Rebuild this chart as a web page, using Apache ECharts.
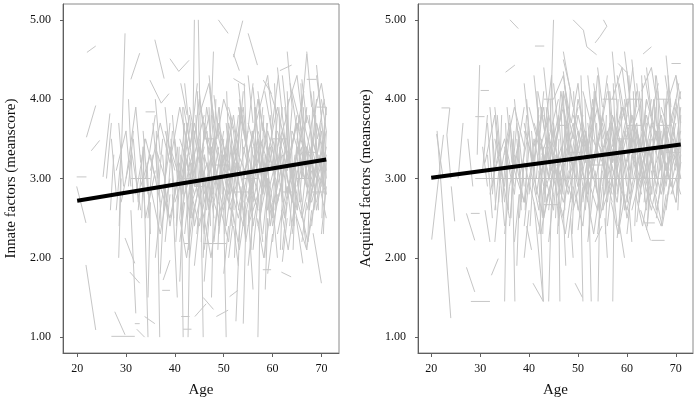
<!DOCTYPE html>
<html><head><meta charset="utf-8">
<script src="https://cdn.jsdelivr.net/npm/echarts@6/dist/echarts.min.js"></script>
<style>html,body{margin:0;padding:0;background:#fff}#c{width:697px;height:403px}</style>
</head><body><div id="c"></div>
<script>
const xTicks=[20,30,40,50,60,70];
const yTicks=[1,2,3,4,5];
const xTitle='Age';
const innateTitle='Innate factors (meanscore)';
const acquiredTitle='Acquired factors (meanscore)';
const innateFit=[[20,2.72],[71,3.24]];
const acquiredFit=[[20,3.01],[71,3.43]];

// each entry: age1, score1, age2, score2 (, age3, score3 ...)
const innateOutliers=[
[22,4.59,23.8,4.67],[29.8,4.83,28.6,2.4],[31,4.25,32.8,4.58],[35.9,4.75,37.8,4.26],
[39,4.51,40.8,4.35,42.9,4.49],[34.9,4.24,37.2,3.95,38.8,4.07],[34,3.84,35.9,3.84],
[23.8,3.92,21.9,3.52],[24.6,3.48,22.9,3.35],[26.7,3.82,25.3,3.02],[19.9,3.02,21.9,3.02],
[48.9,5.0,50.9,4.83],[53.9,4.99,52,4.53],[55,4.83,56.9,4.43],[52,4.57,53.2,4.36],
[61.5,4.36,63.9,4.43],[67,4.57,65.6,3.6],[69,4.43,70.4,3.5],[52,4.26,54.4,4.17],
[58.1,4.24,59.8,4.07],[47.9,4.6,47.2,3.4],[44,5.0,43.5,2.6],[44.8,5.0,45.3,3.2],
[41.2,4.2,42.5,3.8],[30.5,4.0,31.5,2.7],[27.5,3.3,26.8,2.6],[28.5,3.7,29.5,2.9],
[21.8,1.91,23.8,1.09],[19.9,2.9,21.8,2.44],[27.7,1.32,29.8,1.03],[27,1.01,31.8,1.01],
[31.8,1.17,32.8,1.17],[33.8,1.26,35.9,1.17],[32.2,1.1,33.8,1.0],[29.8,2.25,31.8,1.93],
[30.8,1.82,32.8,1.68],[33.5,3.4,34.5,1.0],[36.2,3.6,36.9,1.0],[41.2,3.3,41.7,1.0],
[43.2,3.0,42.7,1.0],[45.3,2.9,45.8,1.0],[50,2.6,50.5,1.0],[57.5,2.8,57,1.0],
[37.6,1.72,39,1.97],[37.4,1.59,39,1.59],[41.3,1.26,43,1.26],[41.7,1.1,43.4,1.1],
[44.1,1.26,46.4,1.42],[45.8,1.5,47.9,1.35],[48.5,1.26,50.9,1.34],[51.2,1.51,52.9,1.59],
[54,1.17,54.6,2.6],[61.8,1.82,63.8,1.76],[68.3,2.31,70,1.68],[58,1.85,59.7,1.85],
[45.8,2.18,50.5,2.18],[41.9,2.18,43,2.18],[64.8,2.52,66.2,1.93],[38,3.0,37,1.8],
[39.5,2.8,40.5,1.5],[47,2.5,46,1.7],[52,2.4,53,1.9],[55,2.6,56,1.6],[60,2.7,61,2.0],
[63,2.5,62,1.95],[66,2.6,67,2.1],[35,2.7,34.5,1.5],[31,2.6,32,1.3],[29,3.0,28.5,2.0],
[42,3.2,41,1.7],[48,2.9,47.5,1.5],[53.5,2.7,52.5,1.2],[59,2.5,58.5,1.6]
];
const innateCloud=[
[28,3.1,30,3.6,31,2.9],[29,2.7,31,3.3],[30,3.0,32,3.9,33,3.2],[31,3.4,33,2.6],
[32,2.8,34,3.5,36,3.0],[33,3.3,34,2.5,36,3.1],[34,3.0,36,3.8],[35,2.9,37,2.3,39,3.0],
[36,3.4,38,3.0,39,3.7],[37,2.6,39,3.4,40,2.8],[38,3.6,40,3.1],[38,2.9,39,2.4,41,3.2],
[39,3.2,41,3.9,43,3.3],[40,2.7,42,3.1,43,2.5],[40,3.5,41,2.9,43,3.6],[41,3.0,43,3.8,44,3.2],
[41,2.5,42,3.3,44,2.8],[42,3.6,44,2.9,45,3.5],[42,2.3,43,2.9,45,2.4],[42,3.1,44,3.7,46,3.0],
[43,2.8,45,3.4,46,2.7],[43,3.9,45,3.2,47,3.8],[43,3.2,44,2.4,46,3.0],[44,2.6,46,3.3,48,2.8],
[44,3.5,45,4.0,47,3.3],[44,3.0,46,2.5,47,3.1],[45,3.3,47,2.7,49,3.4],[45,2.9,46,3.6,48,3.1],
[45,2.4,47,3.0,48,2.5],[46,3.7,48,3.2,49,3.9],[46,3.1,47,2.6,49,3.2],[46,2.8,48,3.5,50,2.9],
[47,3.4,49,2.8,50,3.5],[47,2.5,48,3.1,50,2.6],[47,3.0,49,3.7,51,3.1],[48,3.6,50,3.0,51,3.7],
[48,2.7,50,3.3,52,2.8],[48,3.2,49,2.4,51,3.0],[49,2.9,51,3.6,52,3.1],[49,3.5,51,2.9,53,3.4],
[49,2.3,50,2.9,52,2.5],[50,3.1,52,3.8,53,3.3],[50,2.6,52,3.2,54,2.7],[50,3.4,51,2.8,53,3.5],
[51,3.0,53,2.5,55,3.1],[51,3.7,53,3.1,54,3.8],[51,2.7,52,3.4,54,2.9],[52,3.3,54,3.9,55,3.2],
[52,2.9,54,2.4,56,3.0],[52,3.6,53,3.0,55,3.6],[53,2.6,55,3.3,57,2.8],[53,3.2,55,2.7,56,3.4],
[53,3.9,55,3.3,57,3.8],[54,3.0,56,3.6,57,3.0],[54,2.5,55,3.1,57,2.6],[54,3.4,56,2.9,58,3.5],
[55,2.8,57,3.5,59,2.9],[55,3.7,57,3.2,58,3.9],[55,3.1,56,2.4,58,3.1],[56,3.3,58,2.8,60,3.4],
[56,2.7,58,3.3,59,2.6],[56,3.5,57,4.0,59,3.3],[57,3.0,59,3.6,61,3.1],[57,2.4,59,3.0,60,2.5],
[57,3.4,58,2.9,60,3.6],[58,3.1,60,2.6,62,3.2],[58,3.7,60,3.1,61,3.8],[58,2.8,59,3.4,61,2.9],
[59,3.3,61,3.9,63,3.3],[59,2.6,61,3.2,62,2.7],[59,3.0,60,2.4,62,3.0],[60,3.5,62,3.0,63,3.7],
[60,2.9,62,3.5,64,3.0],[60,3.2,61,2.7,63,3.3],[61,2.7,63,3.3,65,2.8],[61,3.6,63,3.1,64,3.9],
[61,3.0,62,3.6,64,3.1],[62,3.3,64,2.7,66,3.4],[62,2.5,64,3.1,65,2.6],[62,3.8,63,3.2,65,3.7],
[63,3.1,65,3.7,67,3.2],[63,2.8,65,3.3,66,2.7],[63,3.5,64,3.0,66,3.6],[64,3.0,66,2.5,68,3.1],
[64,3.6,66,3.2,67,3.9],[64,2.7,65,3.4,67,2.9],[65,3.3,67,3.8,69,3.3],[65,2.9,67,3.4,68,2.8],
[65,3.6,66,3.0,68,3.7],[66,3.1,68,2.7,70,3.2],[66,3.8,68,3.3,69,4.0],[66,2.6,67,3.2,69,2.8],
[67,3.4,69,3.0,71,3.6],[67,3.0,69,3.7,71,3.1],[67,2.8,68,3.4,70,2.9],[68,3.5,70,3.1,71,3.9],
[68,3.2,69,2.6,71,3.3],[68,2.9,70,3.6,71,3.0],[69,3.7,71,3.2],[69,3.1,71,2.5],
[69,2.7,71,3.4],[70,3.3,71,3.9],[70,3.0,71,2.8],
[31,3.0,35,3.0],[41,3.0,44,3.0],[54,3.0,57,3.0],[65,3.0,68,3.0],[68,2.83,71,2.83],
[69,3.9,71,3.9],[67,4.25,69,4.25],
[42,4.2,43,3.6],[45,4.1,46,3.5],[47,4.3,48,3.7],[50,4.0,52,3.6],[53,4.2,54,3.6],
[55,4.3,56,3.7],[57,4.1,58,3.6],[59,4.2,61,3.8],[62,4.3,63,3.7],[64,4.1,66,3.6],
[66,4.25,67,3.7],[69,4.3,70,3.8],[70,4.0,71,3.6],[38,3.9,39,3.3],[36,4.0,37,3.3],
[48,4.05,49,3.5],[56,4.15,57,3.5],[61,4.4,62,3.8],[63,4.6,64,3.9],[67,4.6,68,3.9],
[41,2.2,42,2.7],[43,2.0,44,2.6],[46,2.1,47,2.6],[48,2.2,49,2.8],[51,2.0,52,2.5],
[53,2.2,54,2.9],[56,2.1,57,2.7],[58,2.3,59,2.9],[60,2.2,61,2.8],[62,2.1,63,2.7],
[64,2.3,65,2.8],[66,2.2,67,2.7],[68,2.4,69,3.0],[70,2.3,71,2.9],[38,2.2,39,2.8],
[36,2.0,37,2.6],[44,1.9,45,2.5],[50,1.8,51,2.4],[55,1.9,56,2.5],[59,1.8,60,2.3]
];
const innateCloud2=[
[40.5,3.4,41.5,2.6,43,3.2],[41.5,2.8,42.5,3.7,44,3.0],[42.5,3.3,43.5,2.5,45,2.9],[43.5,3.7,44.5,2.9,46,3.4],
[44.5,2.3,45.5,3.1,47,2.6],[45.5,3.2,46.5,3.9,48,3.3],[46.5,2.6,47.5,3.4,49,2.9],[47.5,3.8,48.5,3.0,50,3.6],
[48.5,2.5,49.5,3.3,51,2.7],[49.5,3.2,50.5,2.4,52,3.1],[50.5,3.7,51.5,3.0,53,3.8],[51.5,2.4,52.5,3.2,54,2.6],
[52.5,3.1,53.5,3.9,55,3.3],[53.5,2.9,54.5,2.2,56,2.8],[54.5,3.6,55.5,2.8,57,3.5],[55.5,2.6,56.5,3.5,58,2.9],
[56.5,3.9,57.5,3.1,59,3.7],[57.5,2.5,58.5,3.3,60,2.7],[58.5,3.2,59.5,2.4,61,3.0],[59.5,3.8,60.5,3.1,62,3.9],
[60.5,2.6,61.5,3.4,63,2.8],[61.5,3.3,62.5,2.5,64,3.2],[62.5,3.9,63.5,3.2,65,3.8],[63.5,2.4,64.5,3.2,66,2.6],
[64.5,3.1,65.5,3.8,67,3.0],[65.5,2.7,66.5,3.5,68,2.9],[66.5,3.4,67.5,2.6,69,3.2],[67.5,3.8,68.5,3.0,70,3.7],
[68.5,2.6,69.5,3.3,71,2.8],[69.5,3.5,70.5,2.9,71,3.6],
[42,3.4,42.8,2.2],[43.2,2.5,44,3.6],[44.3,3.8,45,2.7],[45.4,2.2,46.1,3.3],[46.6,3.6,47.3,2.4],
[47.8,2.9,48.4,4.0],[49.1,3.9,49.7,2.8],[50.2,2.3,50.9,3.5],[51.4,3.8,52.1,2.6],[52.6,2.7,53.3,3.9],
[53.8,3.5,54.4,2.3],[55.1,2.4,55.8,3.6],[56.3,3.9,57,2.7],[57.6,2.6,58.2,3.8],[58.8,3.7,59.4,2.5],
[60.1,2.5,60.7,3.6],[61.3,3.9,61.9,2.8],[62.6,2.8,63.2,4.0],[63.8,3.6,64.4,2.4],[65.1,2.6,65.7,3.7],
[66.3,3.9,66.9,2.9],[67.6,2.7,68.2,3.9],[68.8,3.8,69.4,2.6],[70.1,2.5,70.7,3.7],
[36.5,3.3,37.2,2.4],[37.8,2.6,38.4,3.6],[39.2,3.5,39.8,2.5],[40.3,2.4,40.9,3.4],[34.3,3.2,35,2.3],[33.2,2.5,33.8,3.5],
[44,2.9,46,2.9],[48,3.17,51,3.17],[52,2.83,55,2.83],[58,3.17,61,3.17],[62,2.83,64,2.83],[60,3.5,63,3.5],[46,3.5,48,3.5],[66,3.33,69,3.33],
[41.8,3.9,43.2,3.4,44.6,4.2],[47.2,4.1,48.6,3.5,50,4.0],[53.2,4.0,54.6,3.4,56,4.2],[58.4,4.1,59.8,3.6,61.2,4.3],[63.6,4.2,65,3.6,66.4,4.1],[67.8,4.1,69.2,3.5,70.6,4.0],
[41,2.5,42.4,2.0,43.8,2.6],[46,2.5,47.4,2.0,48.8,2.7],[51.8,2.6,53.2,2.1,54.6,2.7],[56.8,2.5,58.2,2.0,59.6,2.6],[61.8,2.6,63.2,2.1,64.6,2.7],[65.8,2.6,67.2,2.2,68.6,2.7],
[42.6,3.1,43.6,3.3,44.6,2.8],[45.6,3.0,46.6,3.2,47.6,2.7],[50.6,3.0,51.6,3.4,52.6,2.9],[54.6,3.2,55.6,2.8,56.6,3.3],[58.6,3.0,59.6,3.4,60.6,2.9],[62.6,3.2,63.6,2.8,64.6,3.3],[66.6,3.0,67.6,3.4,68.6,2.9],[69.6,3.2,70.6,2.8]
];
const innateCloud3=[
[30.5,2.9,31.5,3.6],[31.5,3.5,32.5,2.7],[32.5,2.6,33.5,3.4],[33.5,3.6,34.5,2.8],[34.5,2.5,35.5,3.3],
[35.5,3.7,36.5,3.0],[36.5,2.8,37.5,3.5],[37.5,3.3,38.5,2.5],[38.5,2.7,39.5,3.6],[39.5,3.8,40.5,3.0],
[33,2.9,35,3.3,37,2.7],[35,3.1,37,3.7,39,3.2],[37,2.9,39,2.5,41,3.1],[39,3.4,41,3.0,42,3.7],
[40.2,2.2,41,3.0],[41.6,3.9,42.2,2.9],[42.8,2.1,43.4,3.2],[44.6,4.1,45.2,3.0],[45.8,2.0,46.4,2.9],
[47,3.9,47.6,2.8],[48.8,2.1,49.4,3.0],[50.6,4.1,51.2,3.1],[52.2,2.0,52.8,3.0],[54.2,4.2,54.8,3.2],
[55.6,2.1,56.2,3.1],[57.2,4.0,57.8,3.0],[58.4,2.0,59,3.0],[60.4,4.2,61,3.2],[61.6,2.1,62.2,3.1],
[63,4.1,63.6,3.0],[64.2,2.1,64.8,3.1],[65.8,4.2,66.4,3.2],[67.2,2.2,67.8,3.2],[68.4,4.1,69,3.1],[70.4,2.3,71,3.2],
[43,2.6,45,3.0,46,2.3],[49,2.7,51,2.2,52,2.9],[55,2.4,57,2.8,58,2.2],[61,2.3,63,2.9,64,2.4],[65,2.5,67,2.1,68,2.6],
[45,3.8,47,4.2,48,3.6],[51,3.9,53,3.4,54,4.1],[57,3.8,59,4.3,60,3.7],[63,3.9,65,4.3,66,3.8],[68,3.7,70,4.2,71,3.8],
[41,3.5,43,3.1],[44,3.3,46,3.8],[49,3.6,51,3.2],[53,3.3,55,3.0],[57,3.6,59,3.2],[61,3.4,63,3.8],[65,3.5,67,3.1],
[42,2.8,44,3.2],[47,2.9,49,2.5],[51,2.6,53,3.0],[55,3.0,57,2.6],[59,2.8,61,3.3],[63,3.0,65,2.5],[67,2.6,69,3.1],
[28,2.6,29,3.3],[27,3.5,28,2.8],[26,3.0,27,3.7]
];
const acquiredOutliers=[
[36.1,5.0,37.8,4.89],[41.2,4.67,43.1,4.67],[35.2,4.34,37.1,4.43],[29.9,4.43,29.4,3.3],
[30.1,4.11,31.8,4.11],[29,3.78,30.9,3.78],[22.1,3.89,23.8,3.89,23.2,3.55,24,3.0],
[21.1,3.56,22.4,3.02],[49,5.0,51.1,4.87,51.8,4.66,53.8,4.56],[55.2,5.0,55.9,4.92,54.5,4.79,53.5,4.71],
[63.3,4.57,65,4.66],[58.2,4.45,59.9,4.34],[69.1,4.45,71,4.45],[45,5.0,44.3,3.6],
[47,4.5,48.5,4.1],[59.5,4.6,60.5,4.1],[26.5,3.7,25.5,3.0],[27.5,3.5,28.5,2.9],
[20.1,2.23,22.5,3.55],[21.2,3.6,24,1.24],[24.1,2.9,24.8,2.46],[28.1,2.56,29.9,2.56],
[27.2,2.56,28.9,2.22],[27.2,1.88,28.9,1.57],[28.1,1.45,32,1.45],[35.5,3.3,35,1.45],
[36.5,3.5,37.1,1.45],[42,3.1,42.9,1.45],[41,2.7,42.9,1.45],[46,3.2,46.3,1.45],
[50.5,3.0,51,1.45],[52,3.4,52.7,1.45],[54.5,3.0,54.1,1.45],[57.5,3.3,57.1,1.45],
[44.5,2.6,44,1.45],[33.7,1.99,32.3,1.78],[40.8,1.68,42.9,1.45],[49.4,1.68,50.9,1.5],
[53.5,2.2,54.9,2.4],[63.6,2.44,65.7,2.44],[65,2.22,67.7,2.22],[62.8,2.6,64.8,2.22],
[31,2.6,32,2.2],[34,2.9,33,2.2],[38,2.8,37.5,1.9],[40,2.6,39,2.0],[47,2.6,47.5,1.9],
[48.5,2.5,49,2.0],[55.5,2.5,56,2.0],[58.5,2.4,59.5,2.0],[60.5,2.6,61,2.2],[39.5,2.4,40.5,2.1],
[31.5,3.3,32.5,2.5],[33,3.9,34,3.3],[30.5,3.4,31.5,2.9]
];
const acquiredCloud=[
[31,3.2,33,3.8,34,3.1],[32,2.8,34,3.4,35,2.7],[33,3.5,35,2.9,36,3.6],[33,2.6,34,3.2,36,2.5],
[34,3.0,36,3.7,37,3.2],[35,3.4,37,2.8,38,3.5],[36,2.9,38,3.5,39,2.9],[36,3.8,37,3.1,39,3.9],
[37,3.3,39,2.7,40,3.4],[38,3.0,40,3.6,41,3.0],[38,2.5,39,3.2,41,2.7],[39,3.7,41,3.1,42,3.8],
[40,3.2,42,2.6,43,3.3],[40,2.8,41,3.5,43,2.9],[40,3.9,42,3.4,43,4.1],[41,3.4,43,3.9,44,3.2],
[41,3.0,43,2.5,45,3.1],[42,3.6,44,3.0,45,3.7],[42,2.7,43,3.3,45,2.8],[42,3.3,44,3.8,46,3.2],
[43,3.1,45,2.6,46,3.3],[43,3.8,45,3.3,47,4.0],[43,2.9,44,3.5,46,3.0],[44,3.5,46,2.9,48,3.6],
[44,3.2,46,3.8,47,3.1],[44,2.6,45,3.2,47,2.7],[45,3.4,47,3.9,49,3.3],[45,3.0,47,2.5,48,3.1],
[45,3.7,46,3.1,48,3.8],[46,3.3,48,2.8,50,3.4],[46,2.8,48,3.4,49,2.7],[46,3.6,47,4.1,49,3.5],
[47,3.2,49,3.7,51,3.1],[47,2.7,49,3.2,50,2.6],[47,3.9,48,3.3,50,3.9],[48,3.4,50,2.9,52,3.5],
[48,3.0,50,3.6,51,3.1],[48,3.7,49,3.1,51,3.8],[49,3.1,51,3.6,53,3.0],[49,2.6,51,3.1,52,2.7],
[49,3.5,50,4.0,52,3.4],[50,3.3,52,2.8,54,3.4],[50,3.8,52,3.3,53,3.9],[50,2.9,51,3.5,53,3.0],
[51,3.6,53,3.1,55,3.7],[51,3.1,53,3.7,54,3.2],[51,2.7,52,3.3,54,2.8],[52,3.4,54,3.9,56,3.3],
[52,3.0,54,2.6,55,3.1],[52,3.7,53,3.2,55,3.8],[53,3.2,55,3.7,57,3.1],[53,2.8,55,3.4,56,2.8],
[53,4.0,54,3.4,56,4.1],[54,3.5,56,3.0,58,3.6],[54,3.1,56,3.6,57,3.2],[54,2.6,55,3.2,57,2.7],
[55,3.3,57,3.8,59,3.3],[55,3.8,57,3.2,58,3.9],[55,2.9,56,3.4,58,2.9],[56,3.6,58,3.1,60,3.7],
[56,3.2,58,2.7,59,3.3],[56,2.7,57,3.3,59,2.8],[57,3.4,59,3.9,61,3.4],[57,3.0,59,3.5,60,3.0],
[57,3.7,58,3.2,60,3.8],[58,3.1,60,2.6,62,3.2],[58,3.5,60,4.0,61,3.4],[58,2.8,59,3.4,61,2.9],
[59,3.3,61,3.8,63,3.2],[59,3.9,61,3.4,62,4.0],[59,3.0,60,2.5,62,3.1],[60,3.6,62,3.1,64,3.7],
[60,3.2,62,3.7,63,3.1],[60,2.7,61,3.3,63,2.8],[61,3.4,63,2.9,65,3.5],[61,3.8,63,3.4,64,4.0],
[61,3.0,62,3.6,64,3.1],[62,3.3,64,3.8,66,3.3],[62,2.9,64,3.4,65,2.8],[62,3.6,63,3.1,65,3.7],
[63,3.1,65,2.6,67,3.2],[63,3.7,65,3.2,66,3.9],[63,3.4,64,4.0,66,3.5],[64,3.0,66,3.6,68,3.1],
[64,3.5,66,3.0,67,3.6],[64,2.7,65,3.3,67,2.8],[65,3.3,67,3.8,69,3.2],[65,3.8,67,3.3,68,4.0],
[65,3.1,66,2.6,68,3.2],[66,3.6,68,3.1,70,3.7],[66,3.2,68,3.7,69,3.1],[66,2.8,67,3.4,69,2.9],
[67,3.4,69,2.9,71,3.5],[67,3.9,69,3.5,71,4.1],[67,3.0,68,3.6,70,3.1],[68,3.5,70,4.0,71,3.4],
[68,3.2,70,2.7,71,3.3],[68,2.9,69,3.4,71,3.0],[69,3.7,71,3.2],[69,3.1,71,3.6],
[69,2.8,71,3.2],[70,3.4,71,3.9],[70,3.0,71,2.8],
[29,3.0,33,3.0],[33,3.0,38,3.0],[38,3.0,44,3.0],[44,3.0,50,3.0],[50,3.0,56,3.0],
[56,3.0,62,3.0],[62,3.0,67,3.0],[67,3.0,71,3.0],[68,3.33,71,3.33],[55,3.33,58,3.33],
[55,4.0,58,4.0],[60,4.0,63,4.0],[66,4.0,69,4.0],[43,4.0,45,4.0],[43,2.67,46,2.67],
[41,4.3,42,3.7],[43,4.4,44,3.8],[45,4.2,46,3.6],[47,4.35,48,3.8],[50,4.2,51,3.6],
[52,4.3,53,3.7],[54,4.4,55,3.9],[56,4.2,57,3.6],[58,4.3,59,3.8],[60,4.35,61,3.7],
[62,4.2,63,3.6],[64,4.4,65,3.8],[66,4.3,67,3.7],[68,4.55,69,3.9],[70,4.3,71,3.7],
[39,4.2,40,3.6],[37,4.0,38,3.4],[47,4.6,49,3.9],[57,4.6,58,3.9],[61,4.5,62,3.9],
[42,2.3,43,2.9],[44,2.2,45,2.8],[46,2.4,47,3.0],[48,2.25,49,2.8],[50,2.35,51,2.9],
[52,2.2,53,2.8],[54,2.3,55,2.9],[56,2.4,57,3.0],[58,2.25,59,2.8],[60,2.3,61,2.9],
[62,2.45,63,3.0],[64,2.35,65,2.9],[66,2.5,67,3.0],[68,2.6,69,3.1],[70,2.7,71,3.2],
[35,2.3,36,2.9],[37,2.2,38,2.8],[39,2.4,40,3.0]
];
const acquiredCloud2=[
[40.5,3.6,41.5,2.8,43,3.4],[41.5,3.0,42.5,3.9,44,3.2],[42.5,3.5,43.5,2.7,45,3.1],[43.5,3.9,44.5,3.1,46,3.6],
[44.5,2.6,45.5,3.3,47,2.8],[45.5,3.4,46.5,4.1,48,3.5],[46.5,2.8,47.5,3.6,49,3.1],[47.5,4.0,48.5,3.2,50,3.8],
[48.5,2.7,49.5,3.5,51,2.9],[49.5,3.4,50.5,2.6,52,3.3],[50.5,3.9,51.5,3.2,53,4.0],[51.5,2.6,52.5,3.4,54,2.8],
[52.5,3.3,53.5,4.1,55,3.5],[53.5,3.1,54.5,2.5,56,3.0],[54.5,3.8,55.5,3.0,57,3.7],[55.5,2.8,56.5,3.7,58,3.1],
[56.5,4.1,57.5,3.3,59,3.9],[57.5,2.7,58.5,3.5,60,2.9],[58.5,3.4,59.5,2.6,61,3.2],[59.5,4.0,60.5,3.3,62,4.1],
[60.5,2.8,61.5,3.6,63,3.0],[61.5,3.5,62.5,2.7,64,3.4],[62.5,4.1,63.5,3.4,65,4.0],[63.5,2.7,64.5,3.4,66,2.9],
[64.5,3.3,65.5,4.0,67,3.2],[65.5,2.9,66.5,3.7,68,3.1],[66.5,3.6,67.5,2.8,69,3.4],[67.5,4.0,68.5,3.2,70,3.9],
[68.5,2.8,69.5,3.5,71,3.0],[69.5,3.7,70.5,3.1,71,3.8],
[42,3.6,42.8,2.5],[43.2,2.7,44,3.8],[44.3,4.0,45,2.9],[45.4,2.5,46.1,3.5],[46.6,3.8,47.3,2.6],
[47.8,3.1,48.4,4.1],[49.1,4.1,49.7,3.0],[50.2,2.6,50.9,3.7],[51.4,4.0,52.1,2.8],[52.6,2.9,53.3,4.1],
[53.8,3.7,54.4,2.5],[55.1,2.6,55.8,3.8],[56.3,4.1,57,2.9],[57.6,2.8,58.2,4.0],[58.8,3.9,59.4,2.7],
[60.1,2.7,60.7,3.8],[61.3,4.1,61.9,3.0],[62.6,3.0,63.2,4.2],[63.8,3.8,64.4,2.6],[65.1,2.8,65.7,3.9],
[66.3,4.1,66.9,3.1],[67.6,2.9,68.2,4.1],[68.8,4.0,69.4,2.8],[70.1,2.7,70.7,3.9],
[32.5,3.5,33.2,2.6],[33.8,2.7,34.4,3.8],[35.2,3.7,35.8,2.6],[36.3,2.5,36.9,3.6],[37.8,3.6,38.4,2.6],[39.2,2.6,39.8,3.7],
[44,3.17,46,3.17],[48,3.33,51,3.33],[52,3.17,55,3.17],[58,3.5,61,3.5],[62,3.33,64,3.33],[60,3.67,63,3.67],[46,3.67,48,3.67],[66,3.67,69,3.67],
[41.8,4.1,43.2,3.6,44.6,4.3],[47.2,4.2,48.6,3.7,50,4.2],[53.2,4.2,54.6,3.6,56,4.3],[58.4,4.2,59.8,3.7,61.2,4.4],[63.6,4.3,65,3.8,66.4,4.2],[67.8,4.3,69.2,3.7,70.6,4.2],
[41,2.7,42.4,2.3,43.8,2.8],[46,2.7,47.4,2.3,48.8,2.9],[51.8,2.8,53.2,2.3,54.6,2.9],[56.8,2.7,58.2,2.3,59.6,2.8],[61.8,2.8,63.2,2.4,64.6,2.9],[65.8,2.8,67.2,2.4,68.6,2.9],
[42.6,3.3,43.6,3.5,44.6,3.0],[45.6,3.2,46.6,3.4,47.6,2.9],[50.6,3.2,51.6,3.6,52.6,3.1],[54.6,3.4,55.6,3.0,56.6,3.5],[58.6,3.2,59.6,3.6,60.6,3.1],[62.6,3.4,63.6,3.0,64.6,3.5],[66.6,3.2,67.6,3.6,68.6,3.1],[69.6,3.4,70.6,3.0]
];
const acquiredCloud3=[
[30.5,3.1,31.5,3.8],[31.5,3.7,32.5,2.9],[32.5,2.8,33.5,3.6],[33.5,3.8,34.5,3.0],[34.5,2.7,35.5,3.5],
[35.5,3.9,36.5,3.2],[36.5,3.0,37.5,3.7],[37.5,3.5,38.5,2.7],[38.5,2.9,39.5,3.8],[39.5,4.0,40.5,3.2],
[33,3.1,35,3.5,37,2.9],[35,3.3,37,3.9,39,3.4],[37,3.1,39,2.7,41,3.3],[39,3.6,41,3.2,42,3.9],
[40.2,2.4,41,3.2],[41.6,4.1,42.2,3.1],[42.8,2.3,43.4,3.4],[44.6,4.3,45.2,3.2],[45.8,2.3,46.4,3.1],
[47,4.1,47.6,3.0],[48.8,2.3,49.4,3.2],[50.6,4.3,51.2,3.3],[52.2,2.3,52.8,3.2],[54.2,4.3,54.8,3.4],
[55.6,2.3,56.2,3.3],[57.2,4.2,57.8,3.2],[58.4,2.3,59,3.2],[60.4,4.3,61,3.4],[61.6,2.4,62.2,3.3],
[63,4.3,63.6,3.2],[64.2,2.4,64.8,3.3],[65.8,4.3,66.4,3.4],[67.2,2.5,67.8,3.4],[68.4,4.3,69,3.3],[70.4,2.6,71,3.4],
[43,2.8,45,3.2,46,2.5],[49,2.9,51,2.4,52,3.1],[55,2.6,57,3.0,58,2.4],[61,2.6,63,3.1,64,2.6],[65,2.7,67,2.4,68,2.8],
[45,4.0,47,4.3,48,3.8],[51,4.1,53,3.6,54,4.3],[57,4.0,59,4.4,60,3.9],[63,4.1,65,4.4,66,4.0],[68,3.9,70,4.3,71,4.0],
[41,3.7,43,3.3],[44,3.5,46,4.0],[49,3.8,51,3.4],[53,3.5,55,3.2],[57,3.8,59,3.4],[61,3.6,63,4.0],[65,3.7,67,3.3],
[42,3.0,44,3.4],[47,3.1,49,2.7],[51,2.8,53,3.2],[55,3.2,57,2.8],[59,3.0,61,3.5],[63,3.2,65,2.7],[67,2.8,69,3.3],
[32,3.9,33,3.2],[34,3.1,35,2.4],[36,2.4,37,3.2]
];

function toLines(list){
  return list.map(function(a){
    const c=[];
    for(let i=0;i<a.length;i+=2) c.push([a[i],a[i+1]]);
    return {coords:c};
  });
}
const serif='"Liberation Serif","DejaVu Serif",serif';
const axisCol='#5f5f5f';
const textCol='#111';
const greyLine='#c6c6c6';

function xAxisFor(idx,min,max){
  return {gridIndex:idx,type:'value',min:min,max:max,
    splitLine:{show:false},
    axisLine:{show:true,onZero:false,lineStyle:{color:axisCol,width:1}},
    axisTick:{show:true,customValues:xTicks,length:4,lineStyle:{color:axisCol}},
    axisLabel:{customValues:xTicks,color:textCol,fontFamily:serif,fontSize:12,margin:10},
    name:xTitle,nameLocation:'middle',nameGap:30,
    nameTextStyle:{fontFamily:serif,fontSize:15,color:textCol}};
}
function yAxisFor(idx,title){
  return {gridIndex:idx,type:'value',min:0.8,max:5.2,
    splitLine:{show:false},
    axisLine:{show:true,onZero:false,lineStyle:{color:axisCol,width:1}},
    axisTick:{show:true,customValues:yTicks,length:3,lineStyle:{color:axisCol}},
    axisLabel:{customValues:yTicks,color:textCol,fontFamily:serif,fontSize:12,margin:12,
      formatter:function(v){return Number(v).toFixed(2);}},
    name:title,nameLocation:'middle',nameGap:44,
    nameTextStyle:{fontFamily:serif,fontSize:15,color:textCol}};
}
function spaghetti(idx,list){
  return {type:'lines',coordinateSystem:'cartesian2d',xAxisIndex:idx,yAxisIndex:idx,
    polyline:true,silent:true,z:2,
    lineStyle:{color:greyLine,width:1,opacity:1},
    data:toLines(list)};
}
function fitLine(idx,pts){
  return {type:'line',xAxisIndex:idx,yAxisIndex:idx,data:pts,showSymbol:false,symbol:'none',
    silent:true,z:5,lineStyle:{color:'#000',width:4}};
}

const chart=echarts.init(document.getElementById('c'),null,{renderer:'canvas'});
chart.setOption({
  animation:false,
  backgroundColor:'#fff',
  grid:[
    {left:63,top:4,width:276,height:349,show:true,borderColor:'#8a8a8a',borderWidth:1,backgroundColor:'transparent'},
    {left:418,top:4,width:275,height:349,show:true,borderColor:'#8a8a8a',borderWidth:1,backgroundColor:'transparent'}
  ],
  xAxis:[xAxisFor(0,17.1,73.6),xAxisFor(1,17.3,73.5)],
  yAxis:[yAxisFor(0,innateTitle),yAxisFor(1,acquiredTitle)],
  series:[
    spaghetti(0,innateOutliers),spaghetti(0,innateCloud),spaghetti(0,innateCloud2),spaghetti(0,innateCloud3),fitLine(0,innateFit),
    spaghetti(1,acquiredOutliers),spaghetti(1,acquiredCloud),spaghetti(1,acquiredCloud2),spaghetti(1,acquiredCloud3),fitLine(1,acquiredFit)
  ]
});
</script></body></html>
